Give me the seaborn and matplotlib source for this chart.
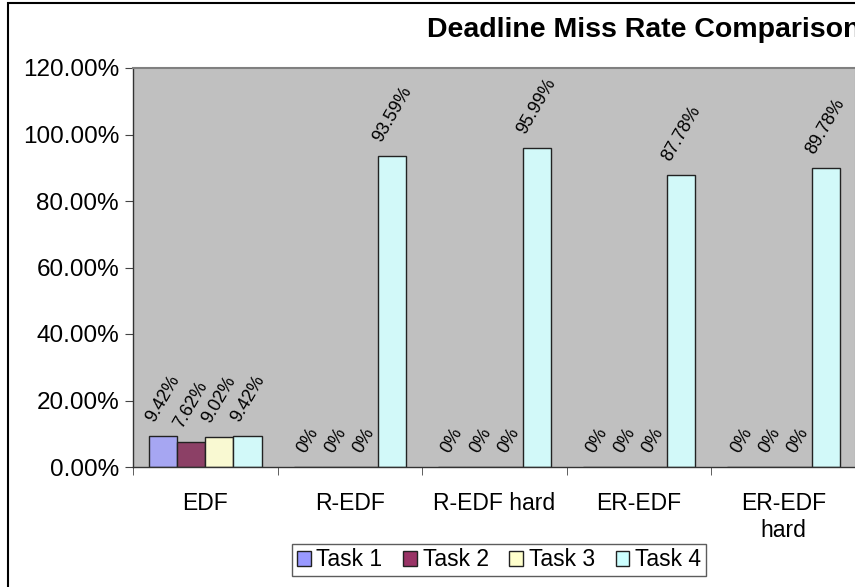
import pandas as pd
import numpy as np
import matplotlib.pyplot as plt
import seaborn as sns
from matplotlib.ticker import FuncFormatter, FixedLocator
from matplotlib.patches import Rectangle

# datos
algoritmos = ['EDF', 'R-EDF', 'R-EDF hard', 'ER-EDF', 'ER-EDF\nhard']
tareas = ['Task 1', 'Task 2', 'Task 3', 'Task 4']
task1 = [0.0942, 0.0, 0.0, 0.0, 0.0]
task2 = [0.0762, 0.0, 0.0, 0.0, 0.0]
task3 = [0.0902, 0.0, 0.0, 0.0, 0.0]
task4 = [0.0942, 0.9359, 0.9599, 0.8778, 0.8978]
etiquetas = {
    'Task 1': ['9.42%', '0%', '0%', '0%', '0%'],
    'Task 2': ['7.62%', '0%', '0%', '0%', '0%'],
    'Task 3': ['9.02%', '0%', '0%', '0%', '0%'],
    'Task 4': ['9.42%', '93.59%', '95.99%', '87.78%', '89.78%'],
}
colores = ['#9999FF', '#993366', '#FFFFCC', '#CCFFFF']

df = pd.DataFrame({
    'algoritmo': algoritmos * 4,
    'tarea': np.repeat(tareas, len(algoritmos)),
    'valor': task1 + task2 + task3 + task4,
})

plt.rcParams['font.family'] = ['Liberation Sans', 'DejaVu Sans']

fig = plt.figure(figsize=(8.55, 5.87), dpi=100)
W, H = 855, 587
ax = fig.add_axes([133 / W, 1 - 467 / H, (856 - 133) / W, (467 - 68) / H])

sns.barplot(data=df, x='algoritmo', y='valor', hue='tarea', palette=colores,
            width=0.78, gap=0, edgecolor='#222222', linewidth=1.0, ax=ax,
            legend=False)

ax.set_facecolor('#C0C0C0')
ax.set_ylim(0, 1.2)
ax.set_xlim(-0.5, 4.5)
ax.yaxis.set_major_locator(FixedLocator(np.arange(0, 1.21, 0.2)))
ax.yaxis.set_major_formatter(FuncFormatter(lambda v, p: f'{v:.2%}'))
ax.tick_params(axis='y', labelsize=17.5, length=6, color='#444444', pad=4)
ax.tick_params(axis='x', which='major', length=0, labelsize=16.5, pad=18)
ax.set_xticks(np.arange(-0.5, 4.6, 1), minor=True)
ax.tick_params(axis='x', which='minor', length=6, color='#444444')
ax.set_xlabel('')
ax.set_ylabel('')
ax.grid(False)

for s in ['left', 'bottom']:
    ax.spines[s].set_color('#333333')
    ax.spines[s].set_linewidth(1.0)
for s in ['top', 'right']:
    ax.spines[s].set_color('#808080')
    ax.spines[s].set_linewidth(1.5)

# etiquetas de datos rotadas
for cont, tarea in zip(ax.containers, tareas):
    for barra, txt in zip(cont, etiquetas[tarea]):
        xc = barra.get_x() + barra.get_width() / 2
        ax.annotate(txt, (xc, barra.get_height()), xytext=(0, 8),
                    textcoords='offset points', rotation=60,
                    ha='center', va='bottom', fontsize=13)

# leyenda
handles = [Rectangle((0, 0), 1, 1, facecolor=c, edgecolor='#222222', linewidth=1)
           for c in colores]
leg = fig.legend(handles, tareas, loc='center', bbox_to_anchor=(499 / W, 1 - 560 / H),
                 ncol=4, fontsize=16.5, frameon=True, fancybox=False,
                 handlelength=0.6, handleheight=0.6, handletextpad=0.25,
                 columnspacing=0.9, borderpad=0.2)
leg.get_frame().set_edgecolor('#333333')
leg.get_frame().set_linewidth(1.0)

# titulo
fig.text(427 / W, 1 - 30 / H, 'Deadline Miss Rate Comparison', fontsize=20.5,
         fontweight='bold', ha='left', va='center')

# borde exterior del grafico
fig.patches.append(Rectangle((8 / W, -0.1), 1.2, 1 - 3 / H + 0.1,
                             transform=fig.transFigure, fill=False,
                             edgecolor='black', linewidth=1.5))

plt.savefig('out.png', dpi=100)
